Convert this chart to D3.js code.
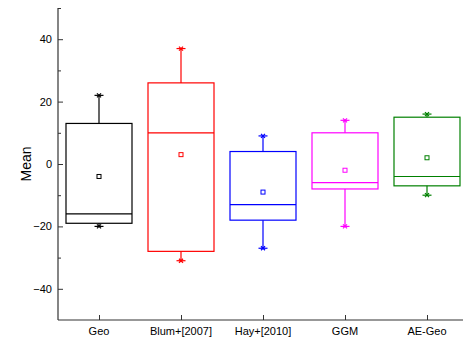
<!DOCTYPE html>
<html>
<head>
<meta charset="utf-8">
<script src="https://cdn.jsdelivr.net/npm/d3@7"></script>
<style>
  body { margin: 0; background: #fff; }
  svg { display: block; font-family: "Liberation Sans", Arial, sans-serif; }
</style>
</head>
<body>
<svg id="chart" width="463" height="338"></svg>
<script>
// Box summaries per method
const categories = ["Geo", "Blum+[2007]", "Hay+[2010]", "GGM", "AE-Geo"];
const whiskerMax = [22, 37, 9, 14, 16];
const boxTop     = [13, 26, 4, 10, 15];
const medians    = [-16, 10, -13, -6, -4];
const means      = [-4, 3, -9, -2, 2];
const boxBottom  = [-19, -28, -18, -8, -7];
const whiskerMin = [-20, -31, -27, -20, -10];
const colors     = ["#000000", "#ff0000", "#0000ff", "#ff00ff", "#008000"];
const yMajorTicks = [-40, -20, 0, 20, 40];
const yMinorTicks = [-30, -10, 10, 30, 50];

const svg = d3.select("#chart");
const plotLeft = 58, plotRight = 468, plotTop = 8, plotBottom = 320;

const x = d3.scalePoint().domain(categories).range([plotLeft, plotRight]).padding(0.5);
const y = d3.scaleLinear().domain([-50, 50]).range([plotBottom, plotTop]);
const boxW = 66;

// Axes
const axisColor = "#333";
const yAxis = svg.append("g").attr("transform", `translate(${plotLeft},0)`)
  .call(d3.axisRight(y).tickValues(yMajorTicks).tickSize(5).tickFormat(d3.format("d")));
yAxis.select(".domain").remove();
yAxis.selectAll(".tick line").attr("stroke", axisColor);
yAxis.selectAll(".tick text").attr("x", -6).attr("text-anchor", "end")
  .attr("font-size", 11).attr("fill", "#000").attr("font-family", "Liberation Sans, Arial, sans-serif");

const yMinor = svg.append("g").attr("transform", `translate(${plotLeft},0)`)
  .call(d3.axisRight(y).tickValues(yMinorTicks).tickSize(3).tickFormat(""));
yMinor.select(".domain").remove();
yMinor.selectAll(".tick line").attr("stroke", axisColor);

const xAxis = svg.append("g").attr("transform", `translate(0,${plotBottom})`)
  .call(d3.axisTop(x).tickSize(5).tickFormat(""));
xAxis.select(".domain").remove();
xAxis.selectAll(".tick line").attr("stroke", axisColor);
svg.append("g").attr("transform", `translate(0,${plotBottom})`)
  .selectAll("text").data(categories).join("text")
  .attr("x", d => x(d)).attr("y", 15)
  .attr("text-anchor", "middle").attr("font-size", 11).attr("fill", "#000")
  .text(d => d);

svg.append("line").attr("x1", plotLeft).attr("x2", plotLeft).attr("y1", y(50)).attr("y2", y(-50))
  .attr("stroke", axisColor).attr("stroke-width", 1.2);
svg.append("line").attr("x1", plotLeft).attr("x2", plotRight).attr("y1", plotBottom).attr("y2", plotBottom)
  .attr("stroke", axisColor).attr("stroke-width", 1.2);

svg.append("text")
  .attr("transform", `translate(31,${y(0)}) rotate(-90)`)
  .attr("text-anchor", "middle").attr("font-size", 14).attr("fill", "#000")
  .text("Mean");

// Boxes
const plot = svg.append("g");
categories.forEach((c, i) => {
  const cx = x(c), col = colors[i];
  const g = plot.append("g").attr("stroke", col).attr("fill", "none").attr("stroke-width", 1.2);
  // whiskers
  g.append("line").attr("x1", cx).attr("x2", cx).attr("y1", y(boxTop[i])).attr("y2", y(whiskerMax[i]));
  g.append("line").attr("x1", cx).attr("x2", cx).attr("y1", y(boxBottom[i])).attr("y2", y(whiskerMin[i]));
  // box
  g.append("rect").attr("x", cx - boxW / 2).attr("y", y(boxTop[i]))
    .attr("width", boxW).attr("height", y(boxBottom[i]) - y(boxTop[i]));
  // median
  g.append("line").attr("x1", cx - boxW / 2).attr("x2", cx + boxW / 2)
    .attr("y1", y(medians[i])).attr("y2", y(medians[i]));
  // mean
  g.append("rect").attr("x", cx - 2).attr("y", y(means[i]) - 2)
    .attr("width", 4).attr("height", 4).attr("stroke-width", 1);
  // star markers at whisker ends
  [whiskerMax[i], whiskerMin[i]].forEach(v => {
    const py = y(v), s = 4.5, d = 2;
    const m = g.append("g").attr("stroke-width", 1.2);
    m.append("line").attr("x1", cx - s).attr("x2", cx + s).attr("y1", py).attr("y2", py);
    m.append("line").attr("x1", cx - d).attr("x2", cx + d).attr("y1", py - d).attr("y2", py + d);
    m.append("line").attr("x1", cx - d).attr("x2", cx + d).attr("y1", py + d).attr("y2", py - d);
  });
});
</script>
</body>
</html>
